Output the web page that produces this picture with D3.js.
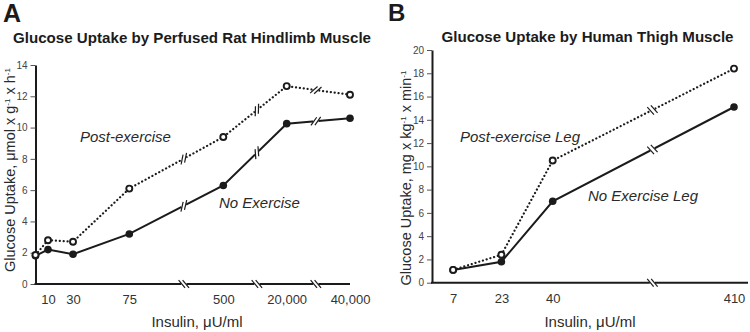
<!DOCTYPE html>
<html>
<head>
<meta charset="utf-8">
<script src="https://cdn.jsdelivr.net/npm/d3@7"></script>
<style>
  body { margin: 0; background: #fff; }
  svg { display: block; font-family: "Liberation Sans", Arial, Helvetica, sans-serif; }
</style>
</head>
<body>
<div id="chart"></div>
<script>
// Panel A - perfused rat hindlimb muscle
var insulinA = [0, 10, 30, 75, 500, 20000, 40000];
var noExerciseA = [1.8, 2.2, 1.9, 3.2, 6.3, 10.25, 10.6];
var postExerciseA = [1.85, 2.8, 2.7, 6.1, 9.4, 12.65, 12.1];
var xTicksA = [10, 30, 75, 500, 20000, 40000];
var yTicksA = [0, 2, 4, 6, 8, 10, 12, 14];

// Panel B - human thigh muscle
var insulinB = [7, 23, 40, 410];
var noExerciseB = [1.1, 1.8, 7.0, 15.1];
var postExerciseB = [1.1, 2.4, 10.5, 18.4];
var xTicksB = [7, 23, 40, 410];
var yTicksB = [0, 2, 4, 6, 8, 10, 12, 14, 16, 18, 20];

var ink = "#1b1b1b";
var svg = d3.select("#chart").append("svg")
    .attr("width", 750)
    .attr("height", 332);
svg.append("rect").attr("width", 750).attr("height", 332).attr("fill", "#fff");

var panels = [
  {
    letter: "A", letterX: 3, letterY: 22, letterSize: 25,
    title: "Glucose Uptake by Perfused Rat Hindlimb Muscle", titleX: 192, titleY: 43, titleLen: 358,
    yUnit: ["Glucose Uptake, \u03bcmol x g", "-1", " x h", "-1"], yLabelX: 15, yLabelY: 170, yLabelSize: 14.5,
    xLabelX: 197,
    insulin: insulinA, noEx: noExerciseA, post: postExerciseA,
    xTicks: xTicksA, yTicks: yTicksA, yMax: 14,
    knots: [0, 75, 500, 20000, 40000], xRange: [35.5, 129.3, 223.3, 286.7, 350], axisEnd: 350,
    yRange: [284, 65],
    breaks: [[3, 0.58], [4, 0.53], [5, 0.46]],   // [segment index, fraction]
    lineMark: -50,
    labels: [
      {text: "Post-exercise", x: 80, y: 142},
      {text: "No Exercise", x: 219, y: 208}
    ]
  },
  {
    letter: "B", letterX: 388, letterY: 21, letterSize: 24,
    title: "Glucose Uptake by Human Thigh Muscle", titleX: 587.5, titleY: 42, titleLen: 292,
    yUnit: ["Glucose Uptake, mg x kg", "-1", " x min", "-1"], yLabelX: 411, yLabelY: 178, yLabelSize: 14.5,
    xLabelX: 590,
    insulin: insulinB, noEx: noExerciseB, post: postExerciseB,
    xTicks: xTicksB, yTicks: yTicksB, yMax: 20,
    knots: [0, 40, 410], xRange: [432, 552.7, 734], axisEnd: 748,
    yRange: [282.7, 50],
    breaks: [[2, 0.55]],
    lineMark: 75,
    labels: [
      {text: "Post-exercise Leg", x: 460, y: 142},
      {text: "No Exercise Leg", x: 588, y: 201}
    ]
  }
];

// two short slashes over a white gap
function breakMark(g, cx, cy, lineAngle, markAngle) {
  var ux = Math.cos(lineAngle), uy = Math.sin(lineAngle);
  g.append("line")
      .attr("x1", cx - ux * 2.6).attr("y1", cy - uy * 2.6)
      .attr("x2", cx + ux * 2.6).attr("y2", cy + uy * 2.6)
      .attr("stroke", "#fff").attr("stroke-width", 5);
  var a = lineAngle + markAngle * Math.PI / 180;
  var mx = Math.cos(a) * 5, my = Math.sin(a) * 5;
  [-2, 2].forEach(function(s) {
    var px = cx + ux * s, py = cy + uy * s;
    g.append("line")
        .attr("x1", px - mx).attr("y1", py - my)
        .attr("x2", px + mx).attr("y2", py + my)
        .attr("stroke", ink).attr("stroke-width", 1.2);
  });
}

panels.forEach(function(p) {
  var g = svg.append("g");

  var x = d3.scaleLinear().domain(p.knots).range(p.xRange);
  var y = d3.scaleLinear().domain([0, p.yMax]).range(p.yRange);

  // letter + title
  g.append("text")
      .attr("x", p.letterX).attr("y", p.letterY)
      .style("font-size", p.letterSize + "px").style("font-weight", "bold")
      .attr("fill", ink)
      .text(p.letter);
  g.append("text")
      .attr("x", p.titleX).attr("y", p.titleY)
      .attr("text-anchor", "middle")
      .attr("textLength", p.titleLen).attr("lengthAdjust", "spacingAndGlyphs")
      .style("font-size", "15px").style("font-weight", "bold")
      .attr("fill", ink)
      .text(p.title);

  // y axis
  var yAxis = g.append("g")
      .attr("transform", "translate(" + p.xRange[0] + ",0)")
      .call(d3.axisLeft(y).tickValues(p.yTicks).tickSize(5).tickPadding(3).tickSizeOuter(0));
  yAxis.select(".domain").attr("stroke", ink).attr("stroke-width", 2);
  yAxis.selectAll(".tick line").attr("stroke", "#555").attr("stroke-width", 1);
  yAxis.selectAll(".tick text").attr("fill", "#444").style("font-size", "10px")
      .style("font-family", "'Liberation Sans', Arial, sans-serif");

  var y0 = y(0);

  // x axis: labels only, line drawn by hand so it can carry breaks
  var xAxis = g.append("g")
      .attr("transform", "translate(0," + y0 + ")")
      .call(d3.axisBottom(x).tickValues(p.xTicks).tickFormat(d3.format(",")).tickSize(0).tickPadding(11));
  xAxis.select(".domain").remove();
  xAxis.selectAll(".tick text").attr("fill", "#333").style("font-size", "13px")
      .style("font-family", "'Liberation Sans', Arial, sans-serif");
  g.append("line")
      .attr("x1", p.xRange[0] - 1).attr("y1", y0)
      .attr("x2", p.axisEnd).attr("y2", y0)
      .attr("stroke", ink).attr("stroke-width", 2);

  p.breaks.forEach(function(b) {
    var xa = x(p.insulin[b[0]]), xb = x(p.insulin[b[0] + 1]);
    breakMark(g, xa + (xb - xa) * b[1], y0, 0, 50);
  });

  // axis titles
  var yl = g.append("text")
      .attr("transform", "translate(" + p.yLabelX + "," + p.yLabelY + ") rotate(-90)")
      .attr("text-anchor", "middle")
      .attr("fill", "#2a2a2a")
      .style("font-size", p.yLabelSize + "px");
  p.yUnit.forEach(function(s, i) {
    var t = yl.append("tspan").text(s);
    if (i % 2 === 1) t.attr("dy", -5).style("font-size", "8px");
    else if (i > 0) t.attr("dy", 5);
  });
  g.append("text")
      .attr("x", p.xLabelX).attr("y", 327)
      .attr("text-anchor", "middle")
      .attr("fill", "#2a2a2a")
      .style("font-size", "15px")
      .text("Insulin, \u03bcU/ml");

  // series lines
  var line = d3.line()
      .x(function(d, i) { return x(p.insulin[i]); })
      .y(function(d) { return y(d); });

  g.append("path")
      .attr("d", line(p.post))
      .attr("fill", "none")
      .attr("stroke", ink).attr("stroke-width", 2.2)
      .attr("stroke-linecap", "round")
      .attr("stroke-dasharray", "0.1,3.8");
  g.append("path")
      .attr("d", line(p.noEx))
      .attr("fill", "none")
      .attr("stroke", ink).attr("stroke-width", 2);

  // line breaks
  [p.post, p.noEx].forEach(function(vals) {
    p.breaks.forEach(function(b) {
      var i = b[0];
      var xa = x(p.insulin[i]), xb = x(p.insulin[i + 1]);
      var ya = y(vals[i]), yb = y(vals[i + 1]);
      var ang = Math.atan2(yb - ya, xb - xa);
      breakMark(g, xa + (xb - xa) * b[1], ya + (yb - ya) * b[1], ang, p.lineMark);
    });
  });

  // markers
  g.selectAll(".noex").data(p.noEx).enter().append("circle")
      .attr("cx", function(d, i) { return x(p.insulin[i]); })
      .attr("cy", function(d) { return y(d); })
      .attr("r", 3.8)
      .attr("fill", ink);
  g.selectAll(".post").data(p.post).enter().append("circle")
      .attr("cx", function(d, i) { return x(p.insulin[i]); })
      .attr("cy", function(d) { return y(d); })
      .attr("r", 3)
      .attr("fill", "#fff")
      .attr("stroke", ink).attr("stroke-width", 1.9);

  // series labels
  g.selectAll(".lab").data(p.labels).enter().append("text")
      .attr("x", function(d) { return d.x; })
      .attr("y", function(d) { return d.y; })
      .attr("fill", "#2a2a2a")
      .style("font-size", "15px").style("font-style", "italic")
      .text(function(d) { return d.text; });
});
</script>
</body>
</html>
